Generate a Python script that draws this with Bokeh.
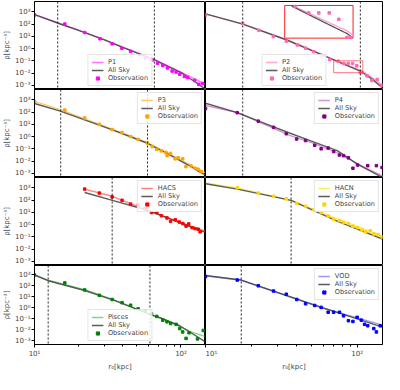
import numpy as np
from bokeh.plotting import figure
from bokeh.layouts import gridplot
from bokeh.models import Range1d, FixedTicker, Span, CustomJSTickFormatter
from bokeh.embed import file_html
from bokeh.resources import INLINE

# ---------------- axes -----------------
X_RANGE = (10, 147)
Y_RANGE = (4.5e-4, 7e3)
X_TICKS = [10, 100]
X_MINOR = [20, 30, 40, 50, 60, 70, 80, 90]
Y_TICKS = [1e-3, 1e-2, 1e-1, 1, 10, 100, 1000]
Y_LABEL = "ρ[kpc⁻³]"
X_LABEL = "r₀[kpc]"

# ---------------- P1 -----------------
p1_obs_r = [10, 16.1, 22, 28, 33.9, 39.5, 45.3, 51.9, 57.1, 63.5, 69.2, 75.1, 80.8, 87, 92.6, 98, 105.5, 111, 124, 132, 140]
p1_obs_rho = [562, 100, 20.4, 6.3, 2.45, 1.07, 0.59, 0.31, 0.17, 0.115, 0.063, 0.042, 0.026, 0.0145, 0.012, 0.0079, 0.0052, 0.0044, 0.0025, 0.0012, 0.0014]
p1_mod_r = [10, 15, 20, 30, 40, 50, 66, 80, 100, 115, 130, 145]
p1_fit = [631, 107, 31.6, 5.37, 1.32, 0.457, 0.126, 0.0417, 0.012, 0.005, 0.0025, 0.00126]
p1_sky = [589, 102, 30.2, 5.13, 1.26, 0.437, 0.12, 0.038, 0.0107, 0.00355, 0.00135, 0.00052]
p1_breaks = [14.4, 65.8]

# ---------------- P2 -----------------
p2_obs_r = [10, 17.6, 22.5, 28, 34.1, 40.4, 45.7, 51.7, 58.3, 66, 75, 81.8, 87.3, 93.4, 99.4, 104.8, 107.4, 116, 125, 135.6, 145]
p2_obs_rho = [562, 115, 30.9, 9.55, 3.98, 1.95, 1.07, 0.562, 0.275, 0.126, 0.0933, 0.0603, 0.0603, 0.0603, 0.0389, 0.0112, 0.0112, 0.0059, 0.00245, 0.00295, 0.001]
p2_mod_r = [10, 17.6, 34, 50, 70.8, 90, 105, 125, 150]
p2_fit = [676, 105, 5.5, 0.76, 0.12, 0.037, 0.0174, 0.00447, 0.00079]
p2_sky = [676, 100, 5.25, 0.708, 0.115, 0.0324, 0.0145, 0.0033, 0.0005]
p2_breaks = [17.6, 105]
# zoom window (source) and where the enlarged view is placed (destination)
INSET_SRC_R, INSET_SRC_RHO = (70, 109), (0.0107, 0.1)
INSET_DST_R, INSET_DST_RHO = (33.3, 94), (7.1, 3300)

# ---------------- P3 -----------------
p3_obs_r = [10, 16.1, 22, 27.7, 33.9, 39.5, 45.3, 51, 59, 63.6, 68.4, 73.4, 78.9, 80.3, 84.8, 91.3, 95.7, 102.8, 108, 117, 124.7, 131, 137]
p3_obs_rho = [741, 145, 33.1, 10, 3.72, 2.14, 1.0, 0.589, 0.295, 0.151, 0.0891, 0.0676, 0.0501, 0.0275, 0.0417, 0.0151, 0.0182, 0.0151, 0.00347, 0.00398, 0.00257, 0.00214, 0.00141]
p3_mod_r = [10, 15, 34, 59, 78, 100, 117, 130, 147]
p3_fit = [741, 158, 3.98, 0.316, 0.0562, 0.0126, 0.00447, 0.00224, 0.00112]
p3_sky = [501, 120, 3.55, 0.282, 0.0501, 0.01, 0.00355, 0.00158, 0.000708]
p3_breaks = [15.1, 59.1]

# ---------------- P4 -----------------
p4_obs_r = [10, 16.2, 22.3, 28.1, 34.1, 39.9, 45.7, 52.5, 57.9, 64.4, 70, 76.4, 81.4, 87.6, 93.8, 100.7, 117.5, 134, 146]
p4_obs_rho = [195, 89.1, 18.2, 5.62, 1.7, 0.631, 0.468, 0.195, 0.1, 0.115, 0.0589, 0.0309, 0.0275, 0.0182, 0.00257, 0.00468, 0.00417, 0.00417, 0.00295]
p4_mod_r = [10, 16.2, 25, 35.8, 50, 74.5, 86, 100, 120, 147]
p4_fit = [347, 89.1, 8.91, 1.26, 0.316, 0.0468, 0.0182, 0.00631, 0.002, 0.000603]
p4_sky = [525, 89.1, 11, 1.95, 0.417, 0.0676, 0.0204, 0.00562, 0.0017, 0.000447]
p4_breaks = [17.6]

# ---------------- HACS -----------------
hacs_obs_r = [22, 27.7, 33.9, 39.6, 45.3, 51.2, 57, 62.9, 68.4, 73.5, 80.2, 84.9, 91.3, 97.3, 103, 108.3, 113, 119, 124.6, 131, 135]
hacs_obs_rho = [794, 372, 182, 95.5, 46.8, 39.8, 19.5, 9.55, 9.55, 5.25, 3.47, 1.82, 2.45, 1.62, 1.2, 0.741, 1.12, 0.562, 0.468, 0.417, 0.257]
hacs_mod_r = [22, 34, 57.6, 80, 117, 147]
hacs_fit = [794, 204, 16.2, 3.89, 0.741, 0.282]
hacs_sky = [417, 95.5, 16.2, 3.63, 0.631, 0.224]
hacs_breaks = [33.9]

# ---------------- HACN -----------------
hacn_obs_r = [16.2, 22.3, 28.1, 34.1, 40, 45.7, 51.7, 57.9, 64.4, 70, 76.5, 81.4, 87.6, 93.8, 100.6, 107.7, 114, 122, 129, 137.5, 146]
hacn_obs_rho = [1000, 372, 204, 126, 52.5, 30.9, 16.2, 9.55, 5.01, 2.75, 2.14, 1.51, 1.2, 0.741, 0.562, 0.363, 0.257, 0.309, 0.17, 0.145, 0.0955]
hacn_mod_r = [10, 16.2, 36.7, 74.5, 147]
hacn_fit = [2570, 1000, 95.5, 2.75, 0.117]
hacn_sky = [2140, 794, 95.5, 1.82, 0.0661]
hacn_breaks = [36.7]

# ---------------- Pisces -----------------
pisc_obs_r = [10, 16.1, 22, 27.7, 33.9, 39.6, 45.3, 51, 57, 62.9, 68.4, 75.1, 80.2, 84.9, 92.6, 98, 102.7, 108.3, 113.5, 129.6, 142]
pisc_obs_rho = [955, 182, 41.7, 13.5, 5.62, 2.88, 1.7, 0.794, 0.525, 0.275, 0.162, 0.0741, 0.0525, 0.0363, 0.0309, 0.0126, 0.0063, 0.00162, 0.00525, 0.00145, 0.00851]
pisc_mod_r = [10, 12.4, 22, 35, 61.4, 75, 98, 117, 145]
pisc_fit = [1000, 316, 44.7, 5.25, 0.251, 0.0955, 0.02, 0.0063, 0.00251]
pisc_sky = [955, 288, 37.2, 4.68, 0.251, 0.1, 0.0229, 0.00525, 0.00085]
pisc_breaks = [12.4, 61.4]

# ---------------- VOD -----------------
vod_obs_r = [10, 16.2, 22.3, 28.1, 34.1, 40, 45.7, 52.5, 57.9, 64.4, 70, 76.5, 81.4, 87.6, 93.8, 100, 106.6, 112, 117.5, 128.8, 134, 142]
vod_obs_rho = [708, 331, 100, 33.1, 17, 5.62, 2.29, 1.62, 1.07, 0.389, 0.389, 0.389, 0.182, 0.0661, 0.0562, 0.135, 0.0741, 0.0309, 0.0229, 0.0126, 0.0063, 0.0229]
vod_mod_r = [10, 17.2, 58.3, 147]
vod_fit = [794, 316, 1.0, 0.0263]
vod_sky = [851, 331, 1.07, 0.0174]
vod_breaks = [17.2]

PANELS = [
    dict(name="P1", line="#ff44ff", pts="#ff00ff", obs=(p1_obs_r, p1_obs_rho), r=p1_mod_r, fit=p1_fit, sky=p1_sky, br=p1_breaks, loc="bottom_center"),
    dict(name="P2", line="#ff88c8", pts="#ff69b4", obs=(p2_obs_r, p2_obs_rho), r=p2_mod_r, fit=p2_fit, sky=p2_sky, br=p2_breaks, loc="bottom_center"),
    dict(name="P3", line="#ffb733", pts="#ffa500", obs=(p3_obs_r, p3_obs_rho), r=p3_mod_r, fit=p3_fit, sky=p3_sky, br=p3_breaks, loc="top_right"),
    dict(name="P4", line="#c070c8", pts="#800080", obs=(p4_obs_r, p4_obs_rho), r=p4_mod_r, fit=p4_fit, sky=p4_sky, br=p4_breaks, loc="top_right"),
    dict(name="HACS", line="#ff5555", pts="#ff0000", obs=(hacs_obs_r, hacs_obs_rho), r=hacs_mod_r, fit=hacs_fit, sky=hacs_sky, br=hacs_breaks, loc="top_right"),
    dict(name="HACN", line="#ffe033", pts="#ffd700", obs=(hacn_obs_r, hacn_obs_rho), r=hacn_mod_r, fit=hacn_fit, sky=hacn_sky, br=hacn_breaks, loc="top_right"),
    dict(name="Pisces", line="#55cc55", pts="#008000", obs=(pisc_obs_r, pisc_obs_rho), r=pisc_mod_r, fit=pisc_fit, sky=pisc_sky, br=pisc_breaks, loc="bottom_center"),
    dict(name="VOD", line="#7777ff", pts="#0000ff", obs=(vod_obs_r, vod_obs_rho), r=vod_mod_r, fit=vod_fit, sky=vod_sky, br=vod_breaks, loc="top_right"),
]

FONT = "DejaVu Sans"
PW, PH = 177, 88

POW10 = CustomJSTickFormatter(code="""
const sup = {'-': '\u207b', '0': '\u2070', '1': '\u00b9', '2': '\u00b2', '3': '\u00b3',
             '4': '\u2074', '5': '\u2075', '6': '\u2076', '7': '\u2077', '8': '\u2078', '9': '\u2079'};
const e = Math.round(Math.log10(tick));
return '10' + String(e).split('').map(c => sup[c]).join('');
""")


def to_inset(r, rho):
    lr, lp = np.log10(r), np.log10(rho)
    s0, s1 = np.log10(INSET_SRC_R)
    t0, t1 = np.log10(INSET_SRC_RHO)
    d0, d1 = np.log10(INSET_DST_R)
    e0, e1 = np.log10(INSET_DST_RHO)
    x = d0 + (lr - s0) / (s1 - s0) * (d1 - d0)
    y = e0 + (lp - t0) / (t1 - t0) * (e1 - e0)
    return 10 ** x, 10 ** y


def add_inset(p, cfg):
    # white enlarged-view box and the zoom window
    p.quad(left=[INSET_DST_R[0]], right=[INSET_DST_R[1]], bottom=[INSET_DST_RHO[0]], top=[INSET_DST_RHO[1]],
           fill_color="white", line_color="#ff2020", line_width=1)
    p.quad(left=[INSET_SRC_R[0]], right=[INSET_SRC_R[1]], bottom=[INSET_SRC_RHO[0]], top=[INSET_SRC_RHO[1]],
           fill_alpha=0, line_color="#ff2020", line_alpha=0.6, line_width=1)
    lr_s = np.linspace(np.log10(INSET_SRC_R[0]), np.log10(INSET_SRC_R[1]), 60)
    lo, hi = np.log10(INSET_SRC_RHO)
    for key, col, alpha in (("fit", cfg["line"], 0.8), ("sky", "#404040", 0.9)):
        lp = np.interp(lr_s, np.log10(cfg["r"]), np.log10(cfg[key]))
        m = (lp >= lo) & (lp <= hi)
        xi, yi = to_inset(10 ** lr_s[m], 10 ** lp[m])
        p.line(xi, yi, line_color=col, line_width=1.3, line_alpha=alpha)
    orr, orho = np.array(cfg["obs"][0]), np.array(cfg["obs"][1])
    m = (orr >= INSET_SRC_R[0]) & (orr <= INSET_SRC_R[1]) & (orho >= INSET_SRC_RHO[0]) & (orho <= INSET_SRC_RHO[1])
    xi, yi = to_inset(orr[m], orho[m])
    p.scatter(xi, yi, marker="square", size=2.5, color=cfg["pts"])


def make_panel(cfg, row, col):
    left, top, bottom = col == 0, row == 0, row == 3
    bl, br = (28, 0) if left else (0, 2)
    bt, bb = (1 if top else 0), (20 if bottom else 0)
    p = figure(width=PW + bl + br, height=PH + bt + bb,
               x_axis_type="log", y_axis_type="log",
               x_range=Range1d(*X_RANGE), y_range=Range1d(*Y_RANGE),
               output_backend="svg", toolbar_location=None,
               min_border=0, min_border_left=bl, min_border_right=br,
               min_border_top=bt, min_border_bottom=bb)
    p.grid.visible = False
    p.outline_line_color = "black"
    p.outline_line_width = 1
    p.background_fill_color = "white"
    p.border_fill_color = "white"

    p.line(cfg["r"], cfg["fit"], line_color=cfg["line"], line_width=1.4, line_alpha=0.75, legend_label=cfg["name"])
    p.line(cfg["r"], cfg["sky"], line_color="#404040", line_width=1.4, line_alpha=0.85, legend_label="All Sky")
    p.scatter(cfg["obs"][0], cfg["obs"][1], marker="square", size=2.5, color=cfg["pts"], legend_label="Observation")
    for b in cfg["br"]:
        p.add_layout(Span(location=b, dimension="height", line_color="#222222", line_dash="2 2", line_width=1))
    if cfg["name"] == "P2":
        add_inset(p, cfg)

    lg = p.legend[0]
    lg.location = cfg["loc"]
    lg.label_text_font = FONT
    lg.label_text_font_size = "6.6px"
    lg.label_height = 8
    lg.glyph_height = 8
    lg.glyph_width = 12
    lg.label_standoff = 5
    lg.spacing = 0
    lg.padding = 3
    lg.margin = 3
    lg.border_line_color = "#cccccc"
    lg.border_line_width = 1
    lg.background_fill_alpha = 0.85

    if left:
        ax = p.yaxis[0]
        ax.ticker = FixedTicker(ticks=Y_TICKS, minor_ticks=[])
        ax.formatter = POW10
        ax.axis_label = Y_LABEL
        ax.axis_label_text_font = FONT
        ax.axis_label_text_font_size = "7px"
        ax.axis_label_text_font_style = "normal"
        ax.axis_label_standoff = 1
        ax.major_label_text_font = FONT
        ax.major_label_text_font_size = "7px"
        ax.major_label_standoff = 1
        ax.major_tick_out = 3
        ax.major_tick_in = 0
        ax.minor_tick_out = 0
        ax.minor_tick_in = 0
        ax.axis_line_color = "black"
    else:
        p.yaxis.visible = False
    if bottom:
        ax = p.xaxis[0]
        ax.ticker = FixedTicker(ticks=X_TICKS, minor_ticks=X_MINOR)
        ax.formatter = POW10
        ax.axis_label = X_LABEL
        ax.axis_label_text_font = FONT
        ax.axis_label_text_font_size = "7px"
        ax.axis_label_text_font_style = "normal"
        ax.axis_label_standoff = 2
        ax.major_label_text_font = FONT
        ax.major_label_text_font_size = "7px"
        ax.major_label_standoff = 2
        ax.major_tick_out = 3
        ax.major_tick_in = 0
        ax.minor_tick_out = 2
        ax.minor_tick_in = 0
        ax.axis_line_color = "black"
    else:
        p.xaxis.visible = False
    return p


figs = [make_panel(cfg, i // 2, i % 2) for i, cfg in enumerate(PANELS)]
grid = gridplot([figs[0:2], figs[2:4], figs[4:6], figs[6:8]], toolbar_location=None)

open("out.html", "w").write(file_html(grid, INLINE))
